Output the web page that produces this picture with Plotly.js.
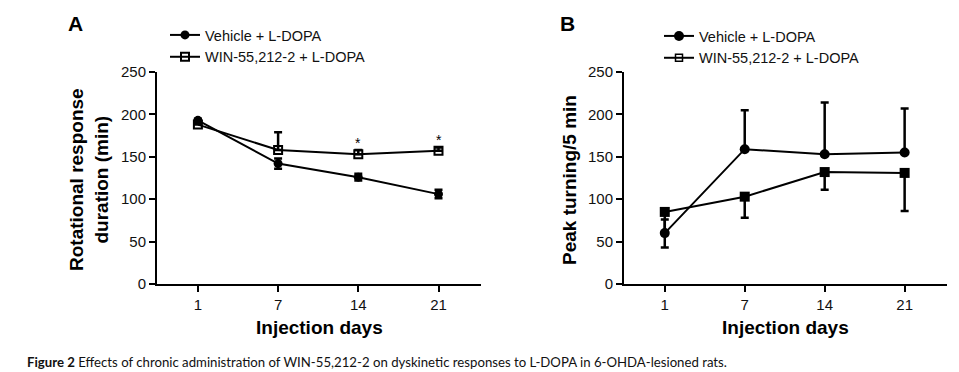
<!DOCTYPE html>
<html>
<head>
<meta charset="utf-8">
<script src="https://cdn.plot.ly/plotly-3.0.1.min.js"></script>
<style>html,body{margin:0;padding:0;background:#fff;}#chart{width:959px;height:372px;}</style>
</head>
<body>
<div id="chart"></div>
<script>
// ---- data ----
const days = ['1', '7', '14', '21'];
const seriesNames = ['Vehicle + L-DOPA', 'WIN-55,212-2 + L-DOPA'];

// Panel A: Rotational response duration (min)
const aVehicle = [193, 142, 126, 106];
const aVehicleErrUp = [2, 6, 4, 5];
const aVehicleErrDown = [2, 6, 4, 5];
const aWin = [188, 158, 153, 157];
const aWinErrUp = [2, 21, 5, 4];
const aWinErrDown = [0, 0, 0, 0];
const aStars = ['', '', '*', '*'];

// Panel B: Peak turning/5 min
const bVehicle = [60, 159, 153, 155];
const bVehicleErrUp = [16, 46, 61, 52];
const bVehicleErrDown = [0, 0, 0, 0];
const bWin = [85, 103, 132, 131];
const bWinErrUp = [0, 0, 0, 0];
const bWinErrDown = [42, 25, 21, 45];
const noValues = [null, null, null, null];

const yTicks = [0, 50, 100, 150, 200, 250];

// ---- styling ----
const W = 959, H = 372;
const px = v => v / W;
const py = v => 1 - v / H;
const black = '#000';
const FAM = 'Arial, "Liberation Sans", sans-serif';
const tickFont = {family: FAM, size: 15, color: '#111'};
const titleFont = {family: FAM, size: 19, color: '#000', weight: 'bold'};

function err(up, down) {
  return {type: 'data', symmetric: false, array: up, arrayminus: down,
          color: black, thickness: 2.5, width: 4};
}

const traces = [
  {x: days, y: aVehicle, xaxis: 'x', yaxis: 'y', type: 'scatter', mode: 'lines+markers',
   name: seriesNames[0], legend: 'legend',
   line: {color: black, width: 2}, marker: {symbol: 'circle', size: 9, color: black},
   error_y: err(aVehicleErrUp, aVehicleErrDown)},
  {x: days, y: aWin, xaxis: 'x', yaxis: 'y', type: 'scatter', mode: 'lines+markers',
   name: seriesNames[1], legend: 'legend',
   line: {color: black, width: 2}, marker: {symbol: 'square-open', size: 8, color: black, line: {width: 2}},
   error_y: err(aWinErrUp, aWinErrDown)},
  {x: days, y: bVehicle, xaxis: 'x2', yaxis: 'y2', type: 'scatter', mode: 'lines+markers',
   name: seriesNames[0], legend: 'legend2',
   line: {color: black, width: 2}, marker: {symbol: 'circle', size: 10, color: black},
   error_y: err(bVehicleErrUp, bVehicleErrDown)},
  {x: days, y: bWin, xaxis: 'x2', yaxis: 'y2', type: 'scatter', mode: 'lines+markers',
   name: seriesNames[1], showlegend: false,
   line: {color: black, width: 2}, marker: {symbol: 'square', size: 10, color: black},
   error_y: err(bWinErrUp, bWinErrDown)},
  // legend-only entry for panel B (legend shows open square)
  {x: days, y: noValues, xaxis: 'x2', yaxis: 'y2', type: 'scatter', mode: 'lines+markers',
   name: seriesNames[1], legend: 'legend2',
   line: {color: black, width: 2}, marker: {symbol: 'square-open', size: 7, color: black, line: {width: 1.5}}}
];

function xax(domain) {
  return {domain: domain, type: 'category', range: [-0.51, 3.53], showgrid: false, zeroline: false,
          showline: true, linecolor: black, linewidth: 2, ticks: 'outside', ticklen: 6, tickwidth: 2,
          tickcolor: black, tickfont: tickFont, fixedrange: true};
}
function yax(domain, anchor) {
  return {domain: domain, anchor: anchor, range: [0, 250], tickvals: yTicks, showgrid: false, zeroline: false,
          showline: true, linecolor: black, linewidth: 2, ticks: 'outside', ticklen: 6, tickwidth: 2,
          tickcolor: black, tickfont: tickFont, ticklabelstandoff: 0, fixedrange: true};
}

function ann(text, x, y, font, extra) {
  return Object.assign({text: text, x: px(x), y: py(y), xref: 'paper', yref: 'paper',
    xanchor: 'center', yanchor: 'middle', showarrow: false, font: font}, extra || {});
}

const yDom = [py(284), py(72)];
const labelFont = {family: FAM, size: 21, weight: 'bold', color: black};
const annotations = [
  ann('A', 75, 24, labelFont),
  ann('B', 567, 24, labelFont),
  ann('Rotational response<br>duration (min)', 89, 180, titleFont, {textangle: -90}),
  ann('Peak turning/5 min', 569, 180, titleFont, {textangle: -90}),
  ann('Injection days', 319, 327, titleFont),
  ann('Injection days', 785, 327, titleFont),
  ann('<b>Figure 2</b> Effects of chronic administration of WIN-55,212-2 on dyskinetic responses to L-DOPA in 6-OHDA-lesioned rats.',
      25, 362, {family: 'Lato, sans-serif', size: 13.2, color: '#111'}, {xanchor: 'left'})
];
days.forEach((d, i) => {
  if (aStars[i]) annotations.push({text: aStars[i], x: i, y: aWin[i] + 13, xref: 'x', yref: 'y',
    xanchor: 'center', yanchor: 'middle',
    showarrow: false, font: {family: FAM, size: 14, color: black}});
});

const legendFont = {family: FAM, size: 14.5, color: '#111'};
const layout = {
  width: W, height: H, margin: {l: 0, r: 0, t: 0, b: 0},
  paper_bgcolor: '#fff', plot_bgcolor: '#fff',
  xaxis: xax([px(157), px(481)]),
  yaxis: yax(yDom, 'x'),
  xaxis2: xax([px(624), px(947)]),
  yaxis2: yax(yDom, 'x2'),
  legend: {x: px(165), y: py(19), xanchor: 'left', yanchor: 'top', font: legendFont,
           bgcolor: 'rgba(0,0,0,0)', itemwidth: 30, tracegroupgap: 0},
  legend2: {x: px(659), y: py(20), xanchor: 'left', yanchor: 'top', font: legendFont,
           bgcolor: 'rgba(0,0,0,0)', itemwidth: 30, tracegroupgap: 0},
  annotations: annotations,
  showlegend: true
};

Plotly.newPlot('chart', traces, layout, {displayModeBar: false, staticPlot: true});
</script>
</body>
</html>
